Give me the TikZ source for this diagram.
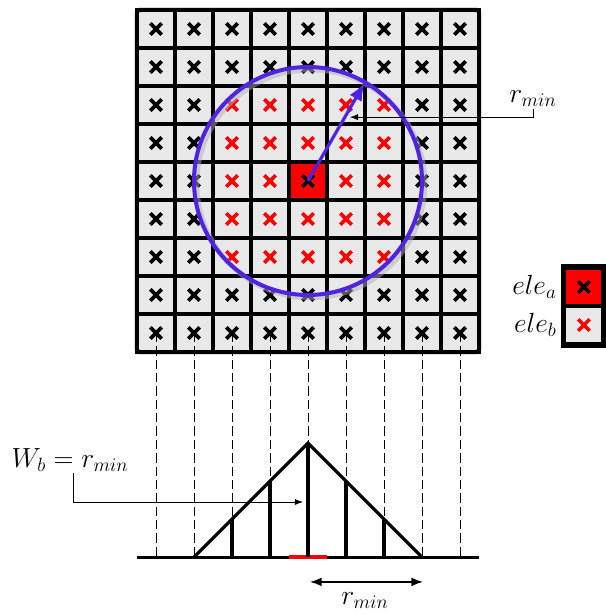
\documentclass[tikz,border=0pt]{standalone}
\usepackage{xcolor}
\usepackage{tikz}
\usetikzlibrary{arrows.meta,positioning}

\definecolor{cellgray}{RGB}{232,232,232}
\definecolor{ringblue}{RGB}{80,35,225}

% one bold cross marker, centred at (#1,#2)
\newcommand{\elecross}[3]{
    \draw[
        line width=2.7pt,
        #3,
        shift={(#1,#2)}
    ] (-0.15,-0.15) -- (0.15,0.15)
      (-0.15,0.15) -- (0.15,-0.15);
}

\begin{document}
\begin{tikzpicture}[
    font=\huge,
    >=Latex,
    cell/.style={
        draw,
        fill=cellgray,
        line width=2.4pt
    },
    keybox/.style={
        draw,
        fill=cellgray,
        line width=2.4pt,
        minimum size=1cm,
        inner sep=0pt
    },
    guide/.style={
        dash pattern=on 7pt off 3pt,
        line width=0.7pt
    },
    callout/.style={
        ->,
        line width=0.7pt
    },
    bar/.style={
        line width=2.4pt
    }
]

\useasboundingbox (-3.605,-6.947) rectangle (12.316,9.263);

% Grid of elements
\foreach \i in {0,...,8} {
    \foreach \j in {0,...,8} {
        \draw[
            cell
        ] (\i,\j) rectangle ++(1,1);
    }
}

\draw[
    cell,
    fill=red
] (4,4) rectangle ++(1,1);

% Projection lines
\foreach \x in {0.5,1.5,...,8.5} {
    \draw[
        guide
    ] (\x,0.5) -- (\x,-5.4);
}

% Crosses: red inside the 5x5 block, black elsewhere
\foreach \i in {0,...,8} {
    \foreach \j in {0,...,8} {
        \pgfmathtruncatemacro{\ring}{max(abs(\i-4),abs(\j-4))}
        \ifcase\ring
            \def\crosscol{black}
        \or
            \def\crosscol{red}
        \or
            \def\crosscol{red}
        \else
            \def\crosscol{black}
        \fi
        \elecross{\i+0.5}{\j+0.5}{\crosscol}
    }
}

\draw[
    line width=3pt,
    rounded corners=2pt
] (0,0) rectangle (9,9);

% Search radius
\coordinate (centre) at (4.5,4.5);

\draw[
    black!30,
    line width=4pt,
    opacity=0.5
] (4.57,4.43) circle (3);

\draw[
    ringblue,
    line width=3pt
] (centre) circle (3);

\draw[
    ->,
    ringblue,
    line width=2.4pt
] (centre) -- ++(60:3);

\coordinate (ringtip) at (5.6,6.18);

\node[
    inner sep=1pt
] (rtop) at (10.42,6.66) {
    $r_{min}$
};

\draw[
    callout
] (rtop.south) |- (ringtip);

% Legend
\node[
    keybox,
    fill=red
] (keya) at (11.76,1.71) {};

\node[
    keybox
] (keyb) at (11.76,0.71) {};

\elecross{11.76}{1.71}{black}
\elecross{11.76}{0.71}{red}

\draw[
    line width=3pt
] (keyb.south west) rectangle (keya.north east);

\node[
    left=0.05cm of keya
] (elea) {
    $ele_a$
};

\node[
    left=0.05cm of keyb
] (eleb) {
    $ele_b$
};

% Weight profile
\draw[
    bar
] (0,-5.4) -- (9,-5.4);

\draw[
    red,
    line width=3.4pt
] (4,-5.4) -- (5,-5.4);

\draw[
    bar
] (1.5,-5.4) -- (4.5,-2.4) -- (7.5,-5.4);

\foreach \x/\h in {2.5/1,3.5/2,4.5/3,5.5/2,6.5/1} {
    \draw[
        bar
    ] (\x,-5.4) -- (\x,-5.4+\h);
}

\node[
    inner sep=1pt
] (wlabel) at (-1.763,-2.84) {
    $W_b = r_{min}$
};

\coordinate (weighttip) at (4.37,-3.947);

\draw[
    callout
] ([xshift=0.1cm]wlabel.south) |- (weighttip);

% Span of the profile
\coordinate (spanl) at (4.55,-6.05);
\coordinate (spanr) at (7.53,-6.05);

\draw[
    <->,
    line width=1.3pt
] (spanl) -- (spanr);

\node (rbot) at (6.0,-6.53) {
    $r_{min}$
};

\end{tikzpicture}
\end{document}
